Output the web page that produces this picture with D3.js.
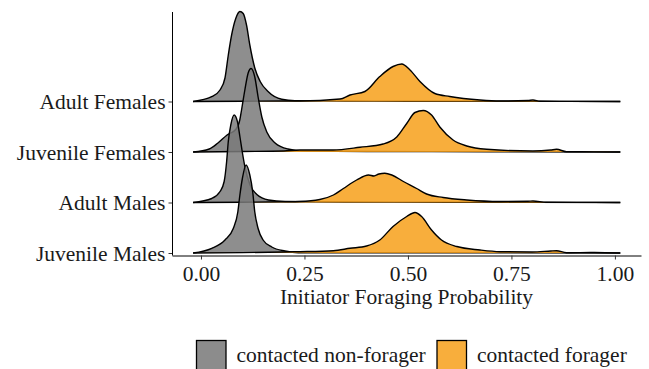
<!DOCTYPE html>
<html>
<head>
<meta charset="utf-8">
<script src="https://cdn.jsdelivr.net/npm/d3@7"></script>
<style>
  body { margin: 0; background: #fff; }
  svg { display: block; }
  text { font-family: "Liberation Serif", "Times New Roman", serif; fill: #1a1a1a; }
</style>
</head>
<body>
<svg id="chart" width="649" height="369"></svg>
<script>
// groups, top to bottom
const groups = ["Adult Females", "Juvenile Females", "Adult Males", "Juvenile Males"];
const xTicks = [0, 0.25, 0.5, 0.75, 1];
const legendLabels = ["contacted non-forager", "contacted forager"];

// density curves: [probability, density]
const afGray = [[-0.019,0],[0.026,0.96],[0.046,2.3],[0.058,4.7],[0.066,9.3],[0.074,13.3],[0.084,16.6],[0.094,18.0],[0.102,17.6],[0.110,15.3],[0.118,11.3],[0.130,6.7],[0.143,4.0],[0.162,2.0],[0.195,0.44],[0.227,0.15],[0.35,0.1],[0.5,0.06],[0.75,0.04],[1.013,0]];
const afOrange = [[-0.019,0],[0.1,0.06],[0.2,0.1],[0.239,0.1],[0.336,0.5],[0.360,1.3],[0.396,2.0],[0.432,5.0],[0.464,7.0],[0.485,7.5],[0.505,6.3],[0.529,4.0],[0.565,1.6],[0.601,1.0],[0.674,0.3],[0.722,0.1],[0.790,0.2],[0.802,0.3],[0.819,0.06],[0.9,0.02],[1.013,0]];
const jfGray = [[-0.019,0],[0.02,0.6],[0.041,1.8],[0.063,3.4],[0.085,4.6],[0.094,6.5],[0.098,8.4],[0.106,12.4],[0.114,15.8],[0.121,16.7],[0.130,15.0],[0.138,11.0],[0.147,7.0],[0.159,4.0],[0.179,1.8],[0.210,0.6],[0.25,0.2],[0.4,0.1],[0.7,0.05],[1.013,0]];
const jfOrange = [[-0.019,0],[0.1,0.1],[0.2,0.2],[0.239,0.4],[0.319,0.4],[0.384,0.94],[0.440,1.6],[0.473,3.0],[0.497,5.7],[0.517,7.9],[0.537,8.3],[0.557,7.4],[0.577,5.0],[0.609,2.4],[0.642,1.2],[0.690,0.54],[0.802,0.2],[0.845,0.4],[0.859,0.54],[0.883,0.06],[0.95,0.03],[1.013,0]];
const amGray = [[-0.019,0],[0.026,0.8],[0.046,2.2],[0.056,4.2],[0.062,8.2],[0.066,12.2],[0.072,15.5],[0.080,17.5],[0.088,16.2],[0.094,13.2],[0.100,10.0],[0.106,7.2],[0.118,3.6],[0.135,1.6],[0.163,0.5],[0.203,0.2],[0.35,0.1],[0.6,0.06],[1.013,0]];
const amOrange = [[-0.019,0],[0.1,0.06],[0.2,0.14],[0.239,0.2],[0.287,0.6],[0.320,1.5],[0.344,2.8],[0.376,4.5],[0.405,5.5],[0.418,5.3],[0.430,5.7],[0.444,5.84],[0.461,5.5],[0.489,4.2],[0.521,2.8],[0.545,1.7],[0.585,1.0],[0.642,0.5],[0.722,0.2],[0.790,0.25],[0.802,0.3],[0.835,0.04],[0.95,0.02],[1.013,0]];
const jmGray = [[-0.019,0],[0.026,0.94],[0.058,2.6],[0.078,4.9],[0.089,8.2],[0.094,11.6],[0.100,14.9],[0.109,17.6],[0.118,15.6],[0.125,12.2],[0.130,8.2],[0.138,4.9],[0.150,2.6],[0.171,1.2],[0.203,0.4],[0.235,0.06],[0.4,0.05],[1.013,0]];
const jmOrange = [[-0.019,0],[0.1,0.08],[0.2,0.2],[0.239,0.26],[0.320,0.46],[0.360,0.94],[0.400,1.4],[0.432,2.6],[0.464,5.3],[0.497,7.3],[0.517,8.1],[0.533,7.3],[0.557,4.6],[0.581,2.6],[0.618,1.3],[0.674,0.6],[0.722,0.26],[0.80,0.2],[0.845,0.4],[0.859,0.46],[0.883,0.06],[0.95,0.1],[1.013,0]];

const grayCurves = [afGray, jfGray, amGray, jmGray];
const orangeCurves = [afOrange, jfOrange, amOrange, jmOrange];

const fills = ["#7a7a7a", "#f7a01a"];
const legendFills = ["#8c8c8c", "#f8ae3c"];

const svg = d3.select("#chart");
const fontSize = 21.5;

// scales
const x = d3.scaleLinear().domain([-0.07, 1.063]).range([172, 641]);
const y = d3.scalePoint().domain(groups).range([101.5, 253]);
const h = d3.scaleLinear().domain([0, 1]).range([0, 5]);

const area = base => d3.area()
    .x(d => x(d[0]))
    .y0(base)
    .y1(d => base - h(d[1]))
    .curve(d3.curveMonotoneX);
const line = base => d3.line()
    .x(d => x(d[0]))
    .y(d => base - h(d[1]))
    .curve(d3.curveMonotoneX);

// ridges: top row first so lower rows sit on top
const ridges = svg.append("g");
groups.forEach((g, i) => {
    const base = y(g);
    [grayCurves[i], orangeCurves[i]].forEach((curve, k) => {
        ridges.append("path")
            .datum(curve)
            .attr("d", area(base))
            .attr("fill", fills[k])
            .attr("fill-opacity", 0.85);
        ridges.append("path")
            .datum(curve)
            .attr("d", line(base))
            .attr("fill", "none")
            .attr("stroke", "#000")
            .attr("stroke-width", 1.4)
            .attr("stroke-linejoin", "round");
    });
});

// axes
const xAxis = svg.append("g")
    .attr("transform", "translate(0,255.5)")
    .call(d3.axisBottom(x).tickValues(xTicks).tickFormat(d3.format(".2f")).tickSize(4).tickPadding(6).tickSizeOuter(0));
xAxis.selectAll("text").attr("font-size", fontSize).attr("font-family", null);

const yAxis = svg.append("g")
    .attr("transform", "translate(172.5,0)")
    .call(d3.axisLeft(y).tickSize(4).tickPadding(3));
yAxis.select(".domain").remove();
yAxis.selectAll("text").attr("font-size", fontSize).attr("font-family", null).attr("dy", "0.34em");

svg.append("line")
    .attr("x1", 172.5).attr("x2", 172.5)
    .attr("y1", 12).attr("y2", 255.5)
    .attr("stroke", "#000");

svg.selectAll(".tick line").attr("stroke", "#333");
svg.selectAll(".domain").attr("stroke", "#000");

svg.append("text")
    .attr("x", 406.5)
    .attr("y", 304)
    .attr("text-anchor", "middle")
    .attr("font-size", fontSize)
    .text("Initiator Foraging Probability");

// legend
const legendX = [196.5, 437];
legendLabels.forEach((label, k) => {
    svg.append("rect")
        .attr("x", legendX[k]).attr("y", 340.5)
        .attr("width", 29.5).attr("height", 30)
        .attr("fill", legendFills[k])
        .attr("stroke", "#000")
        .attr("stroke-width", 1.3);
    svg.append("text")
        .attr("x", legendX[k] + 40)
        .attr("y", 361.5)
        .attr("font-size", fontSize)
        .text(label);
});
</script>
</body>
</html>
